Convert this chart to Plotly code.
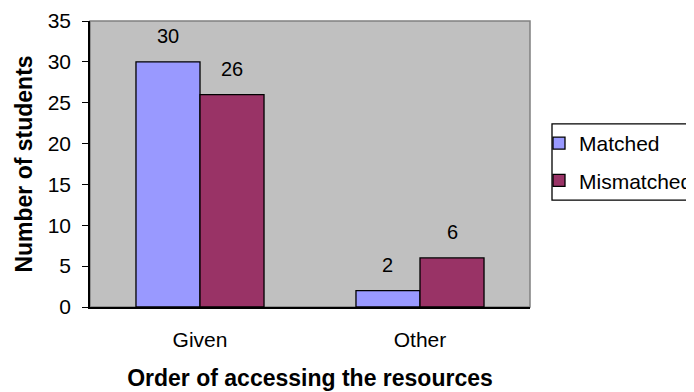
import plotly.graph_objects as go

categories = ["Given", "Other"]
matched = [30, 2]
mismatched = [26, 6]
series_names = ["Matched", "Mismatched"]
colors = ["#9999FF", "#993366"]

FONT = "Arial, Liberation Sans, sans-serif"
BARGAP = 0.418
W, H = 686, 384
fig = go.Figure()
series = [matched, mismatched]
for i, (name, vals) in enumerate(zip(series_names, series)):
    fig.add_trace(go.Bar(
        x=categories, y=vals, name=name,
        marker=dict(color=colors[i], line=dict(color="black", width=1.3)),
        legendgroup=name,
    ))

# value labels above the bars
bw = (1 - BARGAP) / len(series)
for k, vals in enumerate(series):
    for i, v in enumerate(vals):
        fig.add_annotation(x=i + (k - (len(series) - 1) / 2) * bw, y=v, text=str(v),
                           showarrow=False, yanchor="middle", yshift=26,
                           font=dict(family=FONT, size=20, color="black"))

fig.update_layout(
    width=W, height=H,
    margin=dict(l=82, r=164, t=13, b=85),
    paper_bgcolor="white", plot_bgcolor="#C0C0C0",
    barmode="group", bargap=BARGAP, bargroupgap=0,
    font=dict(family=FONT, size=20, color="black"),
    showlegend=True,
    legend=dict(xref="container", yref="container",
                x=531 / W, xanchor="left", y=(H - 154) / H, yanchor="middle",
                borderwidth=0, bgcolor="rgba(0,0,0,0)",
                font=dict(size=21), tracegroupgap=7, traceorder="grouped"),
    xaxis=dict(showline=True, linecolor="black", linewidth=1.5, mirror=False,
               automargin=False,
               ticks="", tickfont=dict(size=21), ticklabelstandoff=13,
               title=dict(text="<b>Order of accessing the resources</b>",
                          font=dict(size=23), standoff=20)),
    yaxis=dict(range=[0, 35], dtick=5, showgrid=False, zeroline=False,
               automargin=False,
               showline=True, linecolor="black", linewidth=1.5,
               ticks="outside", ticklen=6, tickcolor="black", tickfont=dict(size=21),
               ticklabelstandoff=7,
               title=dict(text="<b>Number of students</b>", font=dict(size=23), standoff=9)),
)
fig.add_shape(type="rect", xref="paper", yref="paper", x0=0, y0=0, x1=1, y1=1,
              line=dict(color="#808080", width=1.5), layer="below")
# legend frame
fig.add_shape(type="rect", xref="paper", yref="paper", x0=1.05, y0=0.374, x1=1.5, y1=0.64,
              line=dict(color="black", width=1.3), fillcolor="rgba(0,0,0,0)")
fig.write_html("out.html")
